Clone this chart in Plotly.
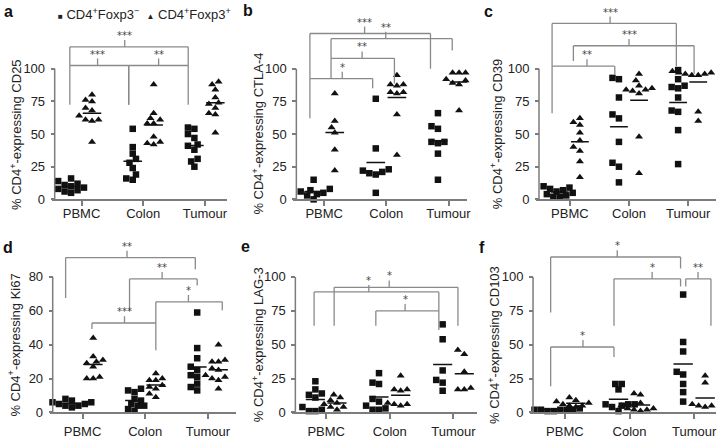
import plotly.graph_objects as go

W, H = 724, 445

categories = ["PBMC", "Colon", "Tumour"]

# a: CD25  (neg = CD4+Foxp3-, squares ; pos = CD4+Foxp3+, triangles)
cd25_neg = [[16, 14, 12, 11, 10, 10, 9, 8, 7, 6, 5], [54, 40, 35, 31, 28, 24, 19, 16, 15], [55, 54, 50, 47, 42, 41, 38, 31, 29, 25]]
cd25_pos = [[80, 76, 75, 70, 68, 64, 61, 61, 60, 44], [88, 66, 62, 61, 58, 58, 48, 44, 43, 42], [90, 88, 84, 78, 74, 73, 70, 66, 65, 51]]
# b: CTLA-4
ctla4_neg = [[15, 8, 7, 6, 5, 4, 3, 0], [77, 39, 23, 22, 21, 20, 19, 5], [66, 56, 54, 44, 44, 43, 35, 15]]
ctla4_pos = [[81, 60, 55, 51, 38, 22], [95, 88, 88, 87, 82, 82, 81, 65, 34], [97, 97, 97, 92, 91, 89, 88, 68]]
# c: CD39
cd39_neg = [[10, 9, 8, 7, 6, 5, 4, 3, 2, 2], [93, 92, 78, 65, 62, 44, 28, 25, 13], [99, 92, 87, 86, 85, 78, 68, 67, 53, 27]]
cd39_pos = [[62, 59, 57, 51, 45, 40, 37, 29, 17], [96, 91, 87, 85, 84, 84, 83, 81, 48, 20], [98, 97, 97, 97, 96, 96, 95, 95, 67, 60]]
# d: Ki67
ki67_neg = [[8, 7, 6, 6, 5, 5, 4, 4, 3], [14, 13, 12, 8, 7, 5, 4, 4, 2, 1], [59, 38, 32, 27, 25, 22, 21, 17, 15, 13]]
ki67_pos = [[44, 33, 31, 30, 29, 27, 21, 20, 20], [23, 20, 19, 19, 16, 15, 14, 11, 9], [40, 31, 30, 30, 26, 25, 20, 22, 21, 19, 14]]
# e: LAG-3
lag3_neg = [[23, 17, 14, 13, 11, 4, 2, 1, 1], [29, 22, 21, 10, 8, 5, 3, 2, 2], [65, 54, 31, 24, 22, 16]]
lag3_pos = [[13, 11, 9, 7, 6, 4, 4, 2], [27, 17, 17, 16, 7, 6, 6, 5], [46, 43, 30, 18, 17, 17]]
# f: CD103
cd103_neg = [[3, 3, 3, 2, 2, 2, 2, 2, 1, 1], [21, 21, 17, 6, 6, 6, 5, 4, 1], [87, 52, 45, 30, 28, 21, 15, 8]]
cd103_pos = [[11, 9, 8, 7, 6, 5, 5, 4], [14, 13, 7, 5, 3, 3, 2, 2, 1], [27, 22, 6, 6, 5, 5, 4]]

ticks_pct = [0, 25, 50, 75, 100]
ticks_ki67 = [0, 20, 40, 60, 80]

# significance brackets: (label, x_left, x_right, y_bar, y_leg_left, y_leg_right, x_stem)
brackets_a = [("***", -0.19, 0.765, 102.5, 72.4, 72.4, 0.26),
              ("**", 0.765, 1.73, 102.5, 72.4, 72.4, 1.25),
              ("***", -0.19, 1.73, 116.8, 102.5, 102.5, 0.70)]
brackets_b = [("*", -0.23, 0.78, 92.5, 62, 85, 0.29),
              ("**", 0.11, 1.13, 108, 92.5, 88.7, 0.61),
              ("***", -0.23, 1.71, 127, 92.5, 100, 0.65),
              ("**", 0.11, 2.06, 123, 108, 114, 0.99)]
brackets_c = [("**", -0.30, 0.76, 102, 66, 95.5, 0.29),
              ("***", 0.06, 2.1, 117.6, 106, 96, 1.0),
              ("***", -0.30, 1.8, 134.7, 102, 102, 0.68)]
brackets_d = [("***", 0.15, 1.17, 52.8, 49.3, 36.7, 0.67),
              ("*", 1.17, 2.23, 65.3, 52.8, 60.3, 1.69),
              ("**", 0.75, 1.83, 78.8, 60, 75, 1.27),
              ("**", -0.27, 1.8, 91.4, 67.6, 84.6, 0.71)]
brackets_e = [("*", 0.78, 1.77, 74.9, 64, 60.9, 1.24),
              ("*", -0.19, 1.77, 88.9, 64, 74.9, 0.67),
              ("*", 0.125, 2.07, 92.3, 64, 64, 0.99)]
brackets_f = [("*", -0.22, 0.76, 48.3, 19.3, 41, 0.28),
              ("*", -0.22, 1.79, 114.7, 73.7, 106.3, 0.81),
              ("*", 0.76, 1.79, 98.6, 64, 93, 1.35),
              ("**", 1.87, 2.26, 98.6, 93, 64, 2.06)]

# panel geometry in pixels (layout only)
panels = [
    dict(letter="a", marker="CD25", neg=cd25_neg, pos=cd25_pos, ticks=ticks_pct, br=brackets_a,
         L=55, P=82, s=62, R=228, y0=203, top=0, sy=1.33, lx=9, ly=12, tx=16, xstand=-4),
    dict(letter="b", marker="CTLA-4", neg=ctla4_neg, pos=ctla4_pos, ticks=ticks_pct, br=brackets_b,
         L=298, P=326, s=62.5, R=470, y0=203, top=0, sy=1.33, lx=249, ly=11, tx=259, xstand=-4),
    dict(letter="c", marker="CD39", neg=cd39_neg, pos=cd39_pos, ticks=ticks_pct, br=brackets_c,
         L=542, P=573, s=59.5, R=720, y0=203, top=0, sy=1.33, lx=491, ly=12, tx=499, xstand=-4),
    dict(letter="d", marker="Ki67", neg=ki67_neg, pos=ki67_pos, ticks=ticks_ki67, br=brackets_d,
         L=53, P=83, s=63, R=237, y0=420, top=232, sy=1.725, lx=8, ly=252, tx=14, xstand=1),
    dict(letter="e", marker="LAG-3", neg=lag3_neg, pos=lag3_pos, ticks=ticks_pct, br=brackets_e,
         L=297, P=328, s=64, R=480, y0=420, top=232, sy=1.38, lx=247, ly=251, tx=259, xstand=1),
    dict(letter="f", marker="CD103", neg=cd103_neg, pos=cd103_pos, ticks=ticks_pct, br=brackets_f,
         L=536, P=568, s=65, R=720, y0=420, top=232, sy=1.38, lx=485, ly=252, tx=496, xstand=1),
]

FONT = "Liberation Sans, Arial, Helvetica, sans-serif"
GRAY = "#8a8a8a"
AXIS = "#7c7c7c"
INK = "#111111"
TXT = "#222222"
MSIZE = 6.5


def swarm(vals, sx, sy, size):
    """deterministic beeswarm offsets (in category units) for one group"""
    order = sorted(range(len(vals)), key=lambda i: vals[i])
    cands = [0.0]
    for j in range(1, 14):
        cands += [-j * size / 2, j * size / 2]
    placed, off = [], [0.0] * len(vals)
    for i in order:
        yp = vals[i] * sy
        chosen = cands[-1]
        for c in cands:
            if all((c - px) ** 2 + (yp - py) ** 2 >= (size * 0.92) ** 2 for px, py in placed):
                chosen = c
                break
        placed.append((chosen, yp))
        off[i] = chosen / sx
    return off


fig = go.Figure()
shapes, annotations = [], []
layout = {}

for k, p in enumerate(panels, start=1):
    xa = "x" if k == 1 else f"x{k}"
    ya = "y" if k == 1 else f"y{k}"
    L, P, s, R, y0, top, sy = p["L"], p["P"], p["s"], p["R"], p["y0"], p["top"], p["sy"]

    for vals_list, sym, shift, size in ((p["neg"], "square", -0.17, MSIZE), (p["pos"], "triangle-up", 0.17, MSIZE + 0.5)):
        xs, ys, lx, ly = [], [], [], []
        for ci, vals in enumerate(vals_list):
            offs = swarm(vals, s, sy, MSIZE)
            xs += [ci + shift + o for o in offs]
            ys += vals
            m = sum(vals) / len(vals)
            lx += [ci + shift - 0.15, ci + shift + 0.15, None]
            ly += [m, m, None]
        fig.add_trace(go.Scatter(x=xs, y=ys, mode="markers", xaxis=xa, yaxis=ya, cliponaxis=False,
                                 marker=dict(symbol=sym, size=size, color=INK, line=dict(width=0)),
                                 hoverinfo="y", showlegend=False))
        fig.add_trace(go.Scatter(x=lx, y=ly, mode="lines", xaxis=xa, yaxis=ya,
                                 line=dict(color=INK, width=1.5), hoverinfo="skip", showlegend=False))

    xmin = (L - 3 - P) / s
    xmax = (R - P) / s
    layout["xaxis" if k == 1 else f"xaxis{k}"] = dict(
        domain=[(L - 3) / W, R / W], range=[xmin, xmax], anchor=ya,
        tickvals=[0, 1, 2], ticktext=categories, ticks="outside", ticklen=5, tickwidth=1.5,
        tickcolor=AXIS, showline=True, linecolor=AXIS, linewidth=1.5, showgrid=False, zeroline=False,
        ticklabelstandoff=p["xstand"],
        tickfont=dict(family=FONT, size=13, color=TXT), fixedrange=True)
    layout["yaxis" if k == 1 else f"yaxis{k}"] = dict(
        domain=[1 - y0 / H, 1 - top / H], range=[0, (y0 - top) / sy], anchor="free", position=L / W,
        tickvals=p["ticks"], ticks="outside", ticklen=4, tickwidth=1.5, tickcolor=AXIS,
        showline=False, showgrid=False, zeroline=False, ticklabelstandoff=3,
        tickfont=dict(family=FONT, size=13, color=TXT), fixedrange=True)

    # y-axis line only up to the top tick
    shapes.append(dict(type="line", xref=xa, yref=ya, x0=(L - P) / s, x1=(L - P) / s, y0=0, y1=p["ticks"][-1],
                       line=dict(color=AXIS, width=1.5)))

    # significance brackets
    stem = 7 / sy
    for lab, x1, x2, yb, l1, l2, xc in p["br"]:
        for (ax0, ay0, ax1, ay1) in ((x1, yb, x2, yb), (x1, l1, x1, yb), (x2, l2, x2, yb), (xc, yb, xc, yb + stem)):
            shapes.append(dict(type="line", xref=xa, yref=ya, x0=ax0, y0=ay0, x1=ax1, y1=ay1,
                               line=dict(color=GRAY, width=1.3)))
        annotations.append(dict(text=lab, xref=xa, yref=ya, x=xc, y=yb + stem, xanchor="center",
                                yanchor="bottom", yshift=-3, showarrow=False,
                                font=dict(family="DejaVu Sans, sans-serif", size=10, color="#444444")))

    # panel letter
    annotations.append(dict(text=f"<b>{p['letter']}</b>", xref="paper", yref="paper", x=p["lx"] / W,
                            y=1 - p["ly"] / H, xanchor="center", yanchor="middle", showarrow=False,
                            font=dict(family=FONT, size=16, color="#111111")))
    # y title
    yc = y0 - p["ticks"][-1] * sy / 2
    annotations.append(dict(text=f"% CD4<sup>+</sup>-expressing {p['marker']}", xref="paper", yref="paper",
                            x=p["tx"] / W, y=1 - yc / H, xanchor="center", yanchor="middle",
                            textangle=-90, showarrow=False, font=dict(family=FONT, size=13, color=TXT)))

# legend (top of panel a)
annotations.append(dict(
    text="<span style='font-size:8px'>■</span> CD4<sup>+</sup>Foxp3<sup>−</sup>  "
         "<span style='font-size:8px'>▲</span> CD4<sup>+</sup>Foxp3<sup>+</sup>",
    xref="paper", yref="paper", x=56 / W, y=1 - 14 / H, xanchor="left", yanchor="middle",
    showarrow=False, font=dict(family=FONT, size=13, color=TXT)))

fig.update_layout(width=W, height=H, margin=dict(l=0, r=0, t=0, b=0), plot_bgcolor="white",
                  paper_bgcolor="white", showlegend=False, shapes=shapes, annotations=annotations,
                  font=dict(family=FONT), **layout)

fig.write_html("out.html", config={"displayModeBar": False},
               post_script="document.body.style.margin='0';document.body.style.overflow='hidden';")
